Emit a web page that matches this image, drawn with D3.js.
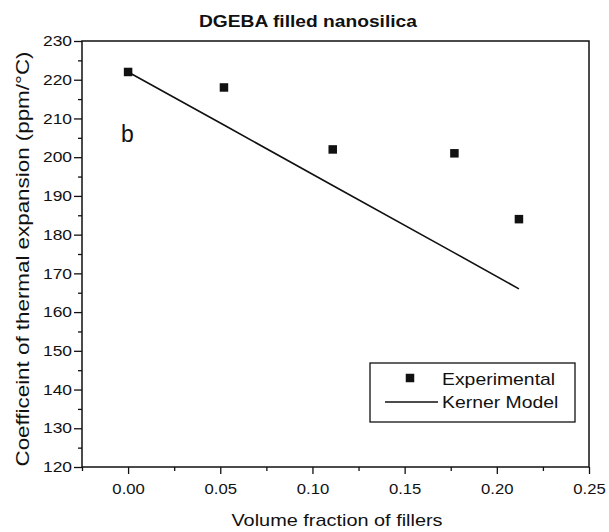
<!DOCTYPE html>
<html><head><meta charset="utf-8">
<script src="https://cdn.jsdelivr.net/npm/d3@7"></script>
<style>body{margin:0;background:#fff}svg{display:block}text{font-family:"Liberation Sans",Arial,sans-serif;fill:#111}</style>
</head><body><svg id="c" width="609" height="532"></svg>
<script>
const expX = [0.0, 0.052, 0.111, 0.177, 0.212];
const expY = [222, 218, 202, 201, 184];
const kernerX = [0.0, 0.052, 0.111, 0.177, 0.212];
const kernerY = [222, 208.3, 192.7, 175.3, 166];
const xTicks = [0.00, 0.05, 0.10, 0.15, 0.20, 0.25];
const yTicks = [120,130,140,150,160,170,180,190,200,210,220,230];

const svg = d3.select("#c");
const L=82,R=589,T=41,B=467;
const x = d3.scaleLinear().domain([-0.025,0.25]).range([L,R]);
const y = d3.scaleLinear().domain([120,230]).range([B,T]);

function stretch(sel,k){sel.each(function(){const w=this.getComputedTextLength();if(w>0){this.setAttribute("textLength",w*k);this.setAttribute("lengthAdjust","spacingAndGlyphs");}});}

svg.append("rect").attr("x",L).attr("y",T).attr("width",R-L).attr("height",B-T)
  .attr("fill","none").attr("stroke","#111").attr("stroke-width",1.5);

const xa = svg.append("g").attr("transform",`translate(0,${B})`)
  .call(d3.axisBottom(x).tickValues(xTicks).tickFormat(d3.format(".2f")).tickSize(7).tickPadding(10));
const xm = svg.append("g").attr("transform",`translate(0,${B})`)
  .call(d3.axisBottom(x).tickValues([-0.025,0.025,0.075,0.125,0.175,0.225]).tickFormat("").tickSize(4));
const ya = svg.append("g").attr("transform",`translate(${L},0)`)
  .call(d3.axisLeft(y).tickValues(yTicks).tickSize(8).tickPadding(2));
const ym = svg.append("g").attr("transform",`translate(${L},0)`)
  .call(d3.axisLeft(y).tickValues(d3.range(125,230,10)).tickFormat("").tickSize(4));
[xa,xm,ya,ym].forEach(g=>{g.select(".domain").remove();g.selectAll("line").attr("stroke","#111").attr("stroke-width",1.3);
  g.selectAll("text").attr("font-size",14.5).attr("fill","#111").attr("font-family",'"Liberation Sans",Arial,sans-serif');});
stretch(xa.selectAll("text"),1.15);
stretch(ya.selectAll("text"),1.2);

stretch(svg.append("text").attr("x",308).attr("y",27).attr("text-anchor","middle").attr("font-size",16).attr("font-weight","bold").text("DGEBA filled nanosilica"),1.2);
stretch(svg.append("text").attr("x",337).attr("y",526).attr("text-anchor","middle").attr("font-size",17).text("Volume fraction of fillers"),1.17);
const yl = svg.append("text").attr("transform","translate(29,259) rotate(-90)").attr("text-anchor","middle").attr("font-size",18).text("Coefficeint of thermal expansion (ppm/\u00B0C)");
yl.attr("textLength",415).attr("lengthAdjust","spacingAndGlyphs");
svg.append("text").attr("x",121).attr("y",142).attr("font-size",23).text("b");

const kd = kernerX.map((v,i)=>[v,kernerY[i]]);
svg.append("path").datum(kd).attr("fill","none").attr("stroke","#111").attr("stroke-width",1.6)
  .attr("d",d3.line().x(d=>x(d[0])).y(d=>y(d[1])));

const sz=8.5;
svg.selectAll("rect.pt").data(expX.map((v,i)=>[v,expY[i]])).enter().append("rect").attr("class","pt")
  .attr("x",d=>x(d[0])-sz/2).attr("y",d=>y(d[1])-sz/2).attr("width",sz).attr("height",sz).attr("fill","#111");

// legend
const lg = svg.append("g");
lg.append("rect").attr("x",370).attr("y",363).attr("width",205).attr("height",59).attr("fill","#fff").attr("stroke","#111").attr("stroke-width",1.3);
lg.append("rect").attr("x",410-sz/2).attr("y",378-sz/2).attr("width",sz).attr("height",sz).attr("fill","#111");
lg.append("line").attr("x1",385).attr("x2",438).attr("y1",402).attr("y2",402).attr("stroke","#111").attr("stroke-width",1.5);
stretch(lg.append("text").attr("x",442).attr("y",385).attr("font-size",17).text("Experimental"),1.14);
stretch(lg.append("text").attr("x",442).attr("y",408).attr("font-size",17).text("Kerner Model"),1.14);
</script></body></html>
